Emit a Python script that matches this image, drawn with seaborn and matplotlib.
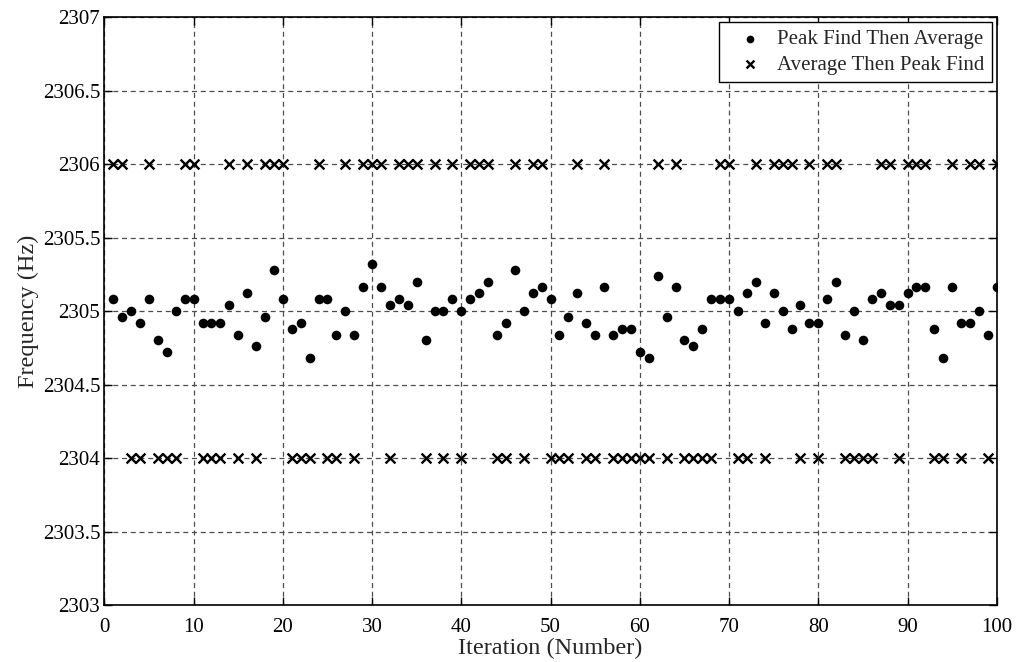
import numpy as np
import pandas as pd
import matplotlib
matplotlib.use("Agg")
import matplotlib.pyplot as plt
import seaborn as sns
from matplotlib.ticker import FuncFormatter

# ---- data ----
iterations = list(range(1, 101))
peak_then_avg = [
    2305.08, 2304.96, 2305.00, 2304.92, 2305.08, 2304.80, 2304.72, 2305.00, 2305.08, 2305.08,
    2304.92, 2304.92, 2304.92, 2305.04, 2304.84, 2305.12, 2304.76, 2304.96, 2305.28, 2305.08,
    2304.88, 2304.92, 2304.68, 2305.08, 2305.08, 2304.84, 2305.00, 2304.84, 2305.16, 2305.32,
    2305.16, 2305.04, 2305.08, 2305.04, 2305.20, 2304.80, 2305.00, 2305.00, 2305.08, 2305.00,
    2305.08, 2305.12, 2305.20, 2304.84, 2304.92, 2305.28, 2305.00, 2305.12, 2305.16, 2305.08,
    2304.84, 2304.96, 2305.12, 2304.92, 2304.84, 2305.16, 2304.84, 2304.88, 2304.88, 2304.72,
    2304.68, 2305.24, 2304.96, 2305.16, 2304.80, 2304.76, 2304.88, 2305.08, 2305.08, 2305.08,
    2305.00, 2305.12, 2305.20, 2304.92, 2305.12, 2305.00, 2304.88, 2305.04, 2304.92, 2304.92,
    2305.08, 2305.20, 2304.84, 2305.00, 2304.80, 2305.08, 2305.12, 2305.04, 2305.04, 2305.12,
    2305.16, 2305.16, 2304.88, 2304.68, 2305.16, 2304.92, 2304.92, 2305.00, 2304.84, 2305.16,
]
high_iters = [1, 2, 5, 9, 10, 14, 16, 18, 19, 20, 24, 27, 29, 30, 31, 33, 34, 35, 37, 39,
              41, 42, 43, 46, 48, 49, 53, 56, 62, 64, 69, 70, 73, 75, 76, 77, 79, 81, 82,
              87, 88, 90, 91, 92, 95, 97, 98, 100]
avg_then_peak = [2306.0 if i in high_iters else 2304.0 for i in iterations]

series_labels = ["Peak Find Then Average", "Average Then Peak Find"]
x_ticks = list(range(0, 101, 10))
y_ticks = [2303, 2303.5, 2304, 2304.5, 2305, 2305.5, 2306, 2306.5, 2307]

df1 = pd.DataFrame({"Iteration": iterations, "Frequency": peak_then_avg})
df2 = pd.DataFrame({"Iteration": iterations, "Frequency": avg_then_peak})

# ---- style ----
sns.set_style("white")
plt.rcParams["font.family"] = ["Liberation Serif", "DejaVu Serif"]

fig = plt.figure(figsize=(10.16, 6.62), dpi=100)
ax = fig.add_axes([0.1027, 0.0861, 0.8784, 0.8882])

sns.scatterplot(data=df1, x="Iteration", y="Frequency", ax=ax, marker="o",
                color="black", s=48, edgecolor="black", linewidth=0,
                label=series_labels[0], zorder=3)
sns.scatterplot(data=df2, x="Iteration", y="Frequency", ax=ax, marker="x",
                color="black", s=50, linewidth=1.7,
                label=series_labels[1], zorder=3)

ax.set_xlim(0, 100)
ax.set_ylim(2303, 2307)
ax.set_xticks(x_ticks)
ax.set_yticks(y_ticks)
ax.yaxis.set_major_formatter(FuncFormatter(lambda v, p: f"{v:g}"))

ax.grid(True, linestyle=(0, (4, 3)), color="0.3", linewidth=0.9)
ax.set_axisbelow(True)

for sp in ax.spines.values():
    sp.set_visible(True)
    sp.set_color("black")
    sp.set_linewidth(1.2)

ax.tick_params(direction="in", length=6, width=1, colors="black",
               labelsize=15, top=True, right=True, bottom=True, left=True)
ax.tick_params(axis="y", pad=3)
ax.tick_params(axis="x", pad=9)

ax.set_xlabel("Iteration (Number)", fontsize=17.5, labelpad=1)
ax.set_ylabel("Frequency (Hz)", fontsize=17.5, labelpad=3)

leg = ax.legend(loc="upper right", fontsize=15, frameon=True, fancybox=False,
                edgecolor="black", borderaxespad=0.25, handletextpad=0.15,
                handlelength=2.3, borderpad=0.35, labelspacing=0.3,
                markerscale=0.8)
leg.get_frame().set_linewidth(1.0)
leg.get_frame().set_alpha(1)

fig.savefig("out.png", dpi=100, facecolor="white")
